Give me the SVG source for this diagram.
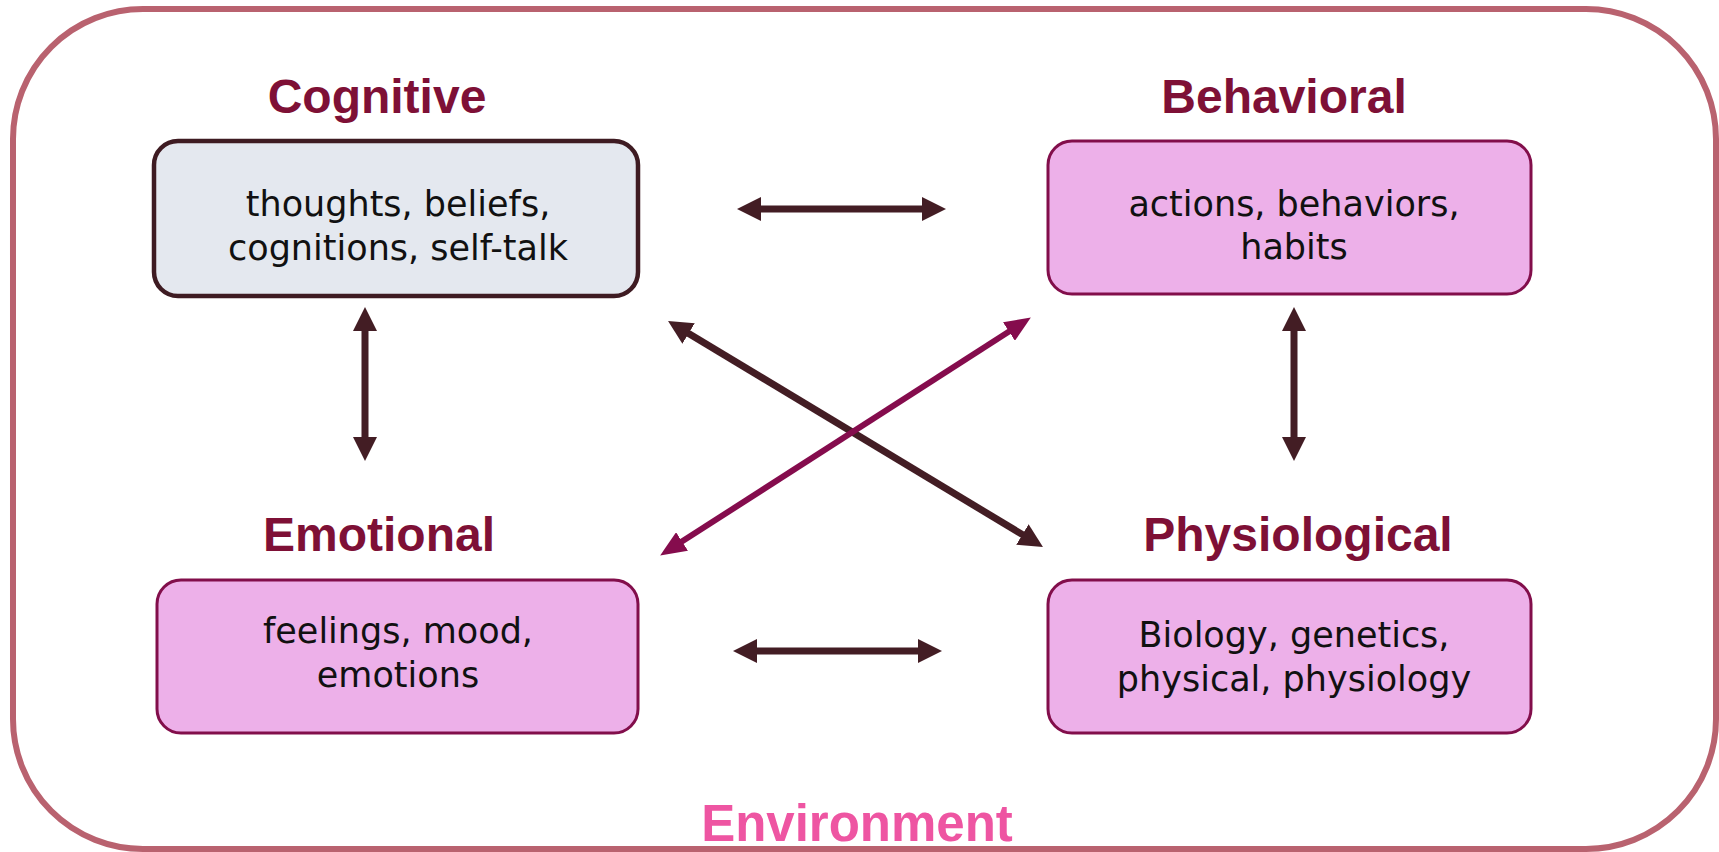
<svg xmlns="http://www.w3.org/2000/svg" width="1719" height="852" viewBox="0 0 1719 852">
  <style>
    .frame { fill: #ffffff; stroke: #b9626f; stroke-width: 6; }
    .title { font-family: "Liberation Sans", Arial, sans-serif; font-weight: bold; font-size: 48px; fill: #7e1036; text-anchor: middle; }
    .body { font-family: "DejaVu Sans", "Liberation Sans", sans-serif; font-size: 35px; fill: #111111; text-anchor: middle; }
    .box-grey { fill: #e4e8ef; stroke: #3e1b22; stroke-width: 4.5; }
    .box-pink { fill: #edb0e9; stroke: #820e4b; stroke-width: 3; }
    .link-dark { stroke: #431d24; stroke-width: 7; fill: none; marker-start: url(#headDark); marker-end: url(#headDark); }
    .link-pink { stroke: #850c4d; stroke-width: 6; fill: none; marker-start: url(#headPink); marker-end: url(#headPink); }
    .env { font-family: "Liberation Sans", Arial, sans-serif; font-weight: bold; font-size: 51px; fill: #ee55a2; text-anchor: middle; }
  </style>
  <defs>
    <marker id="headDark" viewBox="0 0 24 24" refX="14" refY="12" markerWidth="24" markerHeight="24" markerUnits="userSpaceOnUse" orient="auto-start-reverse">
      <path d="M0,0 L24,12 L0,24 Z" fill="#431d24"/>
    </marker>
    <marker id="headPink" viewBox="0 0 26 22" refX="15" refY="11" markerWidth="26" markerHeight="22" markerUnits="userSpaceOnUse" orient="auto-start-reverse">
      <path d="M0,0 L26,11 L0,22 Z" fill="#850c4d"/>
    </marker>
  </defs>

  <!-- environment frame -->
  <rect class="frame" x="13" y="9" width="1703" height="840" rx="130" ry="130"/>

  <!-- connectors -->
  <g id="connectors">
    <line class="link-dark" x1="747" y1="209" x2="936" y2="209"/>
    <line class="link-dark" x1="743" y1="651" x2="932" y2="651"/>
    <line class="link-dark" x1="365" y1="317" x2="365" y2="451"/>
    <line class="link-dark" x1="1294" y1="317" x2="1294" y2="451"/>
    <line class="link-dark" x1="676.6" y1="326.2" x2="1034.4" y2="541.8"/>
    <line class="link-pink" x1="1021.6" y1="323.4" x2="669.4" y2="549.6"/>
  </g>

  <g id="cognitive">
    <text class="title" x="377" y="113">Cognitive</text>
    <rect class="box-grey" x="154" y="141" width="484" height="155" rx="24" ry="24"/>
    <text class="body" x="398" y="216">thoughts, beliefs,</text>
    <text class="body" x="398" y="260">cognitions, self-talk</text>
  </g>

  <g id="behavioral">
    <text class="title" x="1284" y="113">Behavioral</text>
    <rect class="box-pink" x="1048" y="141" width="483" height="153" rx="24" ry="24"/>
    <text class="body" x="1294" y="216">actions, behaviors,</text>
    <text class="body" x="1294" y="259">habits</text>
  </g>

  <g id="emotional">
    <text class="title" x="379" y="551">Emotional</text>
    <rect class="box-pink" x="157" y="580" width="481" height="153" rx="24" ry="24"/>
    <text class="body" x="398" y="643">feelings, mood,</text>
    <text class="body" x="398" y="687">emotions</text>
  </g>

  <g id="physiological">
    <text class="title" x="1298" y="551">Physiological</text>
    <rect class="box-pink" x="1048" y="580" width="483" height="153" rx="24" ry="24"/>
    <text class="body" x="1294" y="647">Biology, genetics,</text>
    <text class="body" x="1294" y="691">physical, physiology</text>
  </g>

  <g id="environment">
    <text class="env" x="857" y="841">Environment</text>
  </g>
</svg>
